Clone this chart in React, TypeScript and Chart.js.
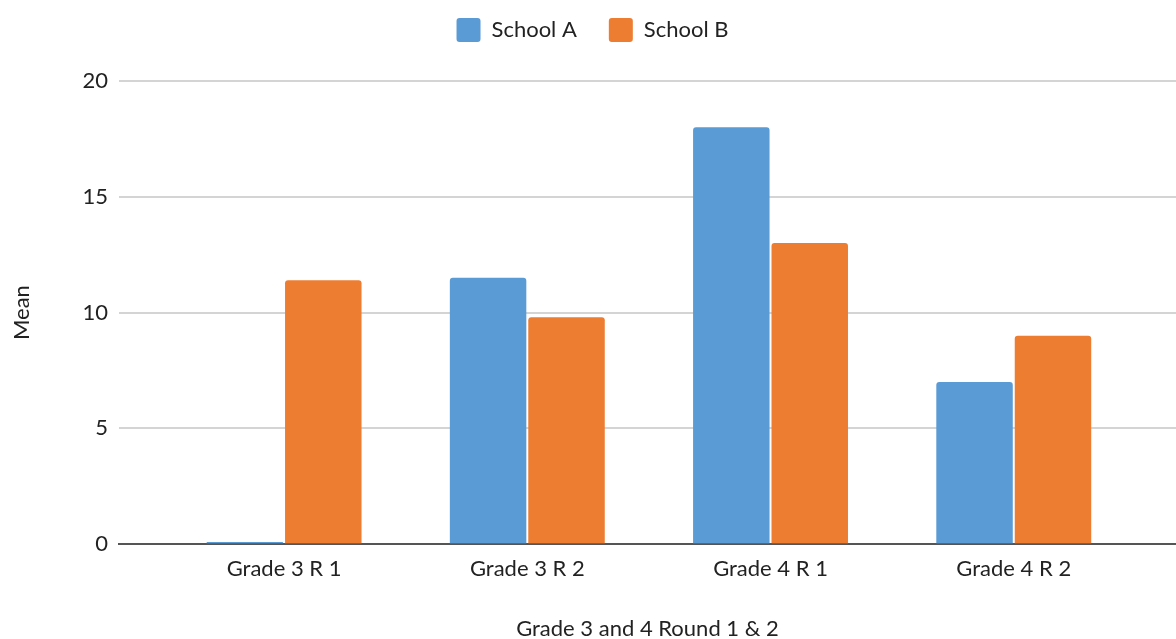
import React, { useEffect, useRef } from "react";
import { Chart, registerables } from "chart.js";

Chart.register(...registerables);

const categories = ["Grade 3 R 1", "Grade 3 R 2", "Grade 4 R 1", "Grade 4 R 2"];
const schoolA = [0.1, 11.5, 18, 7];
const schoolB = [11.4, 9.8, 13, 9];
const yTicks = [0, 5, 10, 15, 20];
const seriesNames = ["School A", "School B"];

const FONT = "Lato, 'Open Sans', sans-serif";

const legendGap = {
  id: "legendGap",
  beforeInit(chart: any) {
    const origFit = chart.legend.fit;
    chart.legend.fit = function fit() {
      origFit.bind(chart.legend)();
      this.height += 29;
    };
  },
};

export default function App() {
  const ref = useRef<HTMLCanvasElement | null>(null);
  useEffect(() => {
    if (!ref.current) return;
    const toPts = (arr: number[]) => arr.map((v, i) => ({ x: i, y: v }));
    const chart = new Chart(ref.current, {
      type: "bar",
      plugins: [legendGap],
      data: {
        datasets: [
          {
            label: seriesNames[0],
            data: toPts(schoolA),
            backgroundColor: "#5b9bd5",
            borderRadius: 3,
            borderSkipped: "start",
            categoryPercentage: 0.645,
            barPercentage: 0.975,
          },
          {
            label: seriesNames[1],
            data: toPts(schoolB),
            backgroundColor: "#ed7d31",
            borderRadius: 3,
            borderSkipped: "start",
            categoryPercentage: 0.645,
            barPercentage: 0.975,
          },
        ],
      },
      options: {
        animation: false,
        responsive: true,
        maintainAspectRatio: false,
        layout: { padding: { left: 9, right: 0, top: -14, bottom: -3 } },
        plugins: {
          tooltip: { enabled: false },
          legend: {
            position: "top",
            labels: {
              boxWidth: 24,
              boxHeight: 24,
              padding: 32,
              useBorderRadius: true,
              borderRadius: 3,
              color: "#222",
              font: { family: FONT, size: 22 },
            },
          },
        },
        scales: {
          x: {
            type: "linear",
            min: -0.679,
            max: 3.667,
            offset: false,
            afterBuildTicks: (scale: any) => {
              scale.ticks = categories.map((_, i) => ({ value: i }));
            },
            ticks: {
              autoSkip: false,
              maxRotation: 0,
              color: "#222",
              padding: 12,
              font: { family: FONT, size: 22 },
              callback: (v: any) => categories[Math.round(Number(v))] ?? "",
            },
            grid: { display: false, drawTicks: false },
            border: { display: true, color: "#555", width: 2 },
            title: {
              display: true,
              text: "Grade 3 and 4 Round 1 & 2",
              color: "#222",
              font: { family: FONT, size: 22 },
              padding: { top: 21, bottom: 0 },
            },
          },
          y: {
            min: 0,
            max: 20,
            afterBuildTicks: (scale: any) => {
              scale.ticks = yTicks.map((v) => ({ value: v }));
            },
            ticks: {
              color: "#222",
              padding: 11,
              font: { family: FONT, size: 22 },
            },
            grid: { color: "#d4d4d4", lineWidth: 2, drawTicks: false },
            border: { display: false },
            title: {
              display: true,
              text: "Mean",
              color: "#222",
              font: { family: FONT, size: 22 },
              padding: { top: 0, bottom: 36 },
            },
          },
        },
      },
    });
    return () => chart.destroy();
  }, []);
  return (
    <div style={{ position: "fixed", left: 0, top: 0, width: 1176, height: 639, background: "#fff" }}>
      <canvas ref={ref} />
    </div>
  );
}
